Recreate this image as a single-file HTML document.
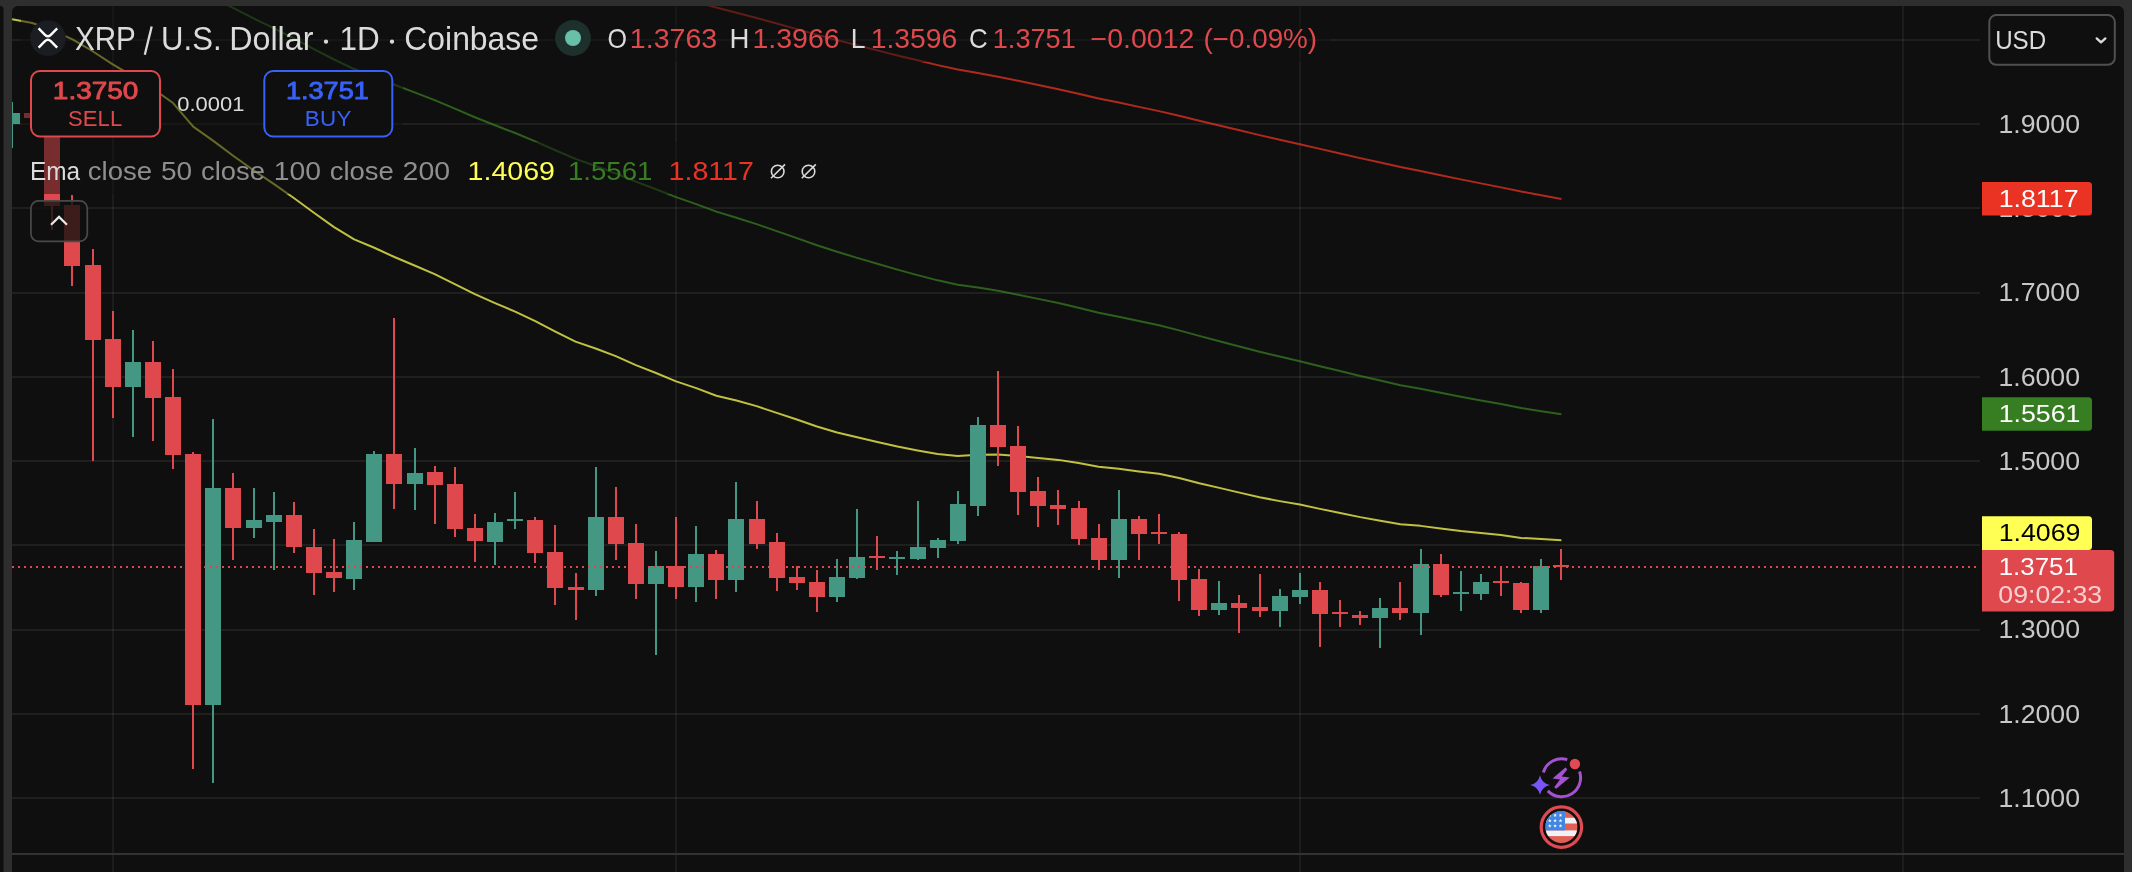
<!DOCTYPE html><html><head><meta charset="utf-8"><style>html,body{margin:0;padding:0;background:#2e2e2e;width:2132px;height:872px;overflow:hidden;}svg{display:block;font-family:"Liberation Sans",sans-serif;will-change:transform;}</style></head><body><svg width="2132" height="872" viewBox="0 0 2132 872" font-family="Liberation Sans, sans-serif">
<defs>
<clipPath id="chart"><rect x="12" y="6" width="1968" height="848"/></clipPath>
</defs>
<rect x="0" y="0" width="2132" height="872" fill="#2e2e2e"/>
<path d="M0 6 H0 L0 6 H0.5 A3 3 0 0 1 3.5 9 V872 H0 Z" fill="#0f0f0f"/>
<path d="M12 12 A6 6 0 0 1 18 6 H2118 A6 6 0 0 1 2124 12 V872 H12 Z" fill="#0f0f0f"/>
<g fill="rgba(242,242,242,0.075)"><rect x="12" y="39" width="1968" height="2"/><rect x="12" y="123" width="1968" height="2"/><rect x="12" y="207" width="1968" height="2"/><rect x="12" y="292" width="1968" height="2"/><rect x="12" y="376" width="1968" height="2"/><rect x="12" y="460" width="1968" height="2"/><rect x="12" y="544" width="1968" height="2"/><rect x="12" y="629" width="1968" height="2"/><rect x="12" y="713" width="1968" height="2"/><rect x="12" y="797" width="1968" height="2"/></g>
<g fill="rgba(242,242,242,0.057)"><rect x="112" y="6" width="2" height="866"/><rect x="675" y="6" width="2" height="866"/><rect x="1299" y="6" width="2" height="866"/><rect x="1902" y="6" width="2" height="866"/></g>
<g clip-path="url(#chart)" fill="none" stroke-width="2" stroke-linejoin="round" stroke-opacity="0.74">
<polyline points="12.13,-198.35 32.25,-195.21 52.37,-191.22 72.49,-186.67 92.61,-181.43 112.74,-175.77 132.86,-170.42 152.98,-164.76 173.10,-158.60 193.22,-150.00 213.34,-143.65 233.46,-136.97 253.58,-130.43 273.70,-124.01 293.82,-117.34 313.94,-110.47 334.06,-103.62 354.18,-97.21 374.30,-91.73 394.42,-86.00 414.54,-80.44 434.66,-74.81 454.78,-68.80 474.90,-62.73 495.02,-56.92 515.15,-51.19 535.27,-45.17 555.39,-38.87 575.51,-32.62 595.63,-27.15 615.75,-21.46 635.87,-15.44 655.99,-9.65 676.11,-3.72 696.23,1.83 716.35,7.59 736.47,12.67 756.59,17.96 776.71,23.53 796.83,29.10 816.95,34.75 837.07,40.15 857.19,45.29 877.31,50.39 897.44,55.43 917.56,60.32 937.68,65.10 957.80,69.46 977.92,73.00 998.04,76.72 1018.16,80.85 1038.28,85.08 1058.40,89.30 1078.52,93.78 1098.64,98.42 1118.76,102.60 1138.88,106.89 1159.00,111.14 1179.12,115.81 1199.24,120.73 1219.36,125.52 1239.48,130.33 1259.60,135.11 1279.72,139.69 1299.85,144.17 1319.97,148.85 1340.09,153.48 1360.21,158.10 1380.33,162.58 1400.45,167.06 1420.57,171.01 1440.69,175.23 1460.81,179.37 1480.93,183.38 1501.05,187.36 1521.17,191.56 1541.29,195.29 1561.41,198.99" stroke="#ea3323"/>
<polyline points="12.13,-87.02 32.25,-82.96 52.37,-77.24 72.49,-70.44 92.61,-62.31 112.74,-53.42 132.86,-45.19 152.98,-36.41 173.10,-26.68 193.22,-12.19 213.34,-2.29 233.46,8.21 253.58,18.35 273.70,28.18 293.82,38.45 313.94,49.04 334.06,59.51 354.18,69.03 374.30,76.65 394.42,84.72 414.54,92.41 434.66,100.18 454.78,108.67 474.90,117.23 495.02,125.25 515.15,133.05 535.27,141.36 555.39,150.21 575.51,158.91 595.63,166.01 615.75,173.49 635.87,181.62 655.99,189.23 676.11,197.11 696.23,204.17 716.35,211.62 736.47,217.70 756.59,224.16 776.71,231.17 796.83,238.14 816.95,245.24 837.07,251.81 857.19,257.86 877.31,263.80 897.44,269.61 917.56,275.10 937.68,280.35 957.80,284.77 977.92,287.55 998.04,290.71 1018.16,294.69 1038.28,298.88 1058.40,303.04 1078.52,307.71 1098.64,312.71 1118.76,316.79 1138.88,321.09 1159.00,325.31 1179.12,330.35 1199.24,335.89 1219.36,341.18 1239.48,346.46 1259.60,351.70 1279.72,356.54 1299.85,361.16 1319.97,366.17 1340.09,371.08 1360.21,375.97 1380.33,380.56 1400.45,385.16 1420.57,388.70 1440.69,392.79 1460.81,396.73 1480.93,400.40 1501.05,404.02 1521.17,408.10 1541.29,411.22 1561.41,414.31" stroke="#377e22"/>
<polyline points="12.13,19.15 32.25,23.02 52.37,30.20 72.49,39.45 92.61,51.23 112.74,64.40 132.86,76.07 152.98,88.70 173.10,103.06 193.22,126.67 213.34,140.84 233.46,156.02 253.58,170.29 273.70,183.81 293.82,198.05 313.94,212.76 334.06,227.08 354.18,239.35 374.30,247.77 394.42,257.03 414.54,265.50 434.66,274.11 454.78,284.11 474.90,294.18 495.02,303.11 515.15,311.58 535.27,321.05 555.39,331.52 575.51,341.65 595.63,348.53 615.75,356.19 635.87,365.13 655.99,373.01 676.11,381.40 696.23,388.17 716.35,395.69 736.47,400.53 756.59,406.15 776.71,412.89 796.83,419.56 816.95,426.52 837.07,432.42 857.19,437.31 877.31,442.04 897.44,446.55 917.56,450.49 937.68,454.00 957.80,455.96 977.92,454.74 998.04,454.44 1018.16,455.91 1038.28,457.88 1058.40,459.88 1078.52,462.99 1098.64,466.79 1118.76,468.84 1138.88,471.39 1159.00,473.85 1179.12,478.01 1199.24,483.19 1219.36,487.89 1239.48,492.60 1259.60,497.24 1279.72,501.11 1299.85,504.60 1319.97,508.89 1340.09,513.01 1360.21,517.13 1380.33,520.69 1400.45,524.31 1420.57,525.87 1440.69,528.58 1460.81,531.07 1480.93,533.06 1501.05,535.02 1521.17,537.96 1541.29,539.06 1561.41,540.16" stroke="#ffff54"/>
</g>
<g clip-path="url(#chart)">
<g fill="#df484c"><rect x="31" y="105" width="2" height="19"/><rect x="24" y="113" width="16" height="5"/><rect x="51" y="114" width="2" height="116"/><rect x="44" y="118" width="16" height="88"/><rect x="71" y="195" width="2" height="91"/><rect x="64" y="205" width="16" height="61"/><rect x="92" y="249" width="2" height="212"/><rect x="85" y="265" width="16" height="75"/><rect x="112" y="311" width="2" height="107"/><rect x="105" y="339" width="16" height="48"/><rect x="152" y="341" width="2" height="100"/><rect x="145" y="362" width="16" height="36"/><rect x="172" y="369" width="2" height="100"/><rect x="165" y="397" width="16" height="58"/><rect x="192" y="452" width="2" height="317"/><rect x="185" y="454" width="16" height="251"/><rect x="232" y="473" width="2" height="87"/><rect x="225" y="488" width="16" height="40"/><rect x="293" y="502" width="2" height="51"/><rect x="286" y="515" width="16" height="32"/><rect x="313" y="529" width="2" height="66"/><rect x="306" y="547" width="16" height="26"/><rect x="333" y="539" width="2" height="53"/><rect x="326" y="572" width="16" height="6"/><rect x="393" y="318" width="2" height="191"/><rect x="386" y="454" width="16" height="30"/><rect x="434" y="466" width="2" height="58"/><rect x="427" y="472" width="16" height="13"/><rect x="454" y="467" width="2" height="70"/><rect x="447" y="484" width="16" height="45"/><rect x="474" y="514" width="2" height="48"/><rect x="467" y="528" width="16" height="13"/><rect x="534" y="517" width="2" height="46"/><rect x="527" y="520" width="16" height="33"/><rect x="554" y="525" width="2" height="80"/><rect x="547" y="552" width="16" height="36"/><rect x="575" y="573" width="2" height="47"/><rect x="568" y="587" width="16" height="3"/><rect x="615" y="487" width="2" height="73"/><rect x="608" y="517" width="16" height="27"/><rect x="635" y="524" width="2" height="75"/><rect x="628" y="543" width="16" height="41"/><rect x="675" y="517" width="2" height="82"/><rect x="668" y="566" width="16" height="21"/><rect x="715" y="550" width="2" height="49"/><rect x="708" y="554" width="16" height="26"/><rect x="756" y="501" width="2" height="48"/><rect x="749" y="519" width="16" height="25"/><rect x="776" y="533" width="2" height="58"/><rect x="769" y="542" width="16" height="36"/><rect x="796" y="566" width="2" height="24"/><rect x="789" y="577" width="16" height="6"/><rect x="816" y="570" width="2" height="42"/><rect x="809" y="582" width="16" height="15"/><rect x="876" y="536" width="2" height="34"/><rect x="869" y="556" width="16" height="2"/><rect x="997" y="371" width="2" height="95"/><rect x="990" y="425" width="16" height="22"/><rect x="1017" y="426" width="2" height="89"/><rect x="1010" y="446" width="16" height="46"/><rect x="1037" y="477" width="2" height="50"/><rect x="1030" y="491" width="16" height="15"/><rect x="1057" y="490" width="2" height="35"/><rect x="1050" y="505" width="16" height="4"/><rect x="1078" y="501" width="2" height="44"/><rect x="1071" y="508" width="16" height="31"/><rect x="1098" y="524" width="2" height="46"/><rect x="1091" y="538" width="16" height="22"/><rect x="1138" y="516" width="2" height="44"/><rect x="1131" y="519" width="16" height="15"/><rect x="1158" y="514" width="2" height="30"/><rect x="1151" y="532" width="16" height="2"/><rect x="1178" y="532" width="2" height="69"/><rect x="1171" y="534" width="16" height="46"/><rect x="1198" y="569" width="2" height="47"/><rect x="1191" y="579" width="16" height="31"/><rect x="1238" y="595" width="2" height="38"/><rect x="1231" y="603" width="16" height="5"/><rect x="1259" y="574" width="2" height="43"/><rect x="1252" y="607" width="16" height="4"/><rect x="1319" y="582" width="2" height="65"/><rect x="1312" y="590" width="16" height="24"/><rect x="1339" y="600" width="2" height="27"/><rect x="1332" y="612" width="16" height="2"/><rect x="1359" y="611" width="2" height="14"/><rect x="1352" y="615" width="16" height="3"/><rect x="1399" y="582" width="2" height="38"/><rect x="1392" y="608" width="16" height="5"/><rect x="1440" y="554" width="2" height="43"/><rect x="1433" y="564" width="16" height="31"/><rect x="1500" y="566" width="2" height="30"/><rect x="1493" y="581" width="16" height="2"/><rect x="1520" y="582" width="2" height="31"/><rect x="1513" y="583" width="16" height="27"/><rect x="1560" y="549" width="2" height="31"/><rect x="1553" y="565" width="16" height="2"/></g>
<g fill="#449782"><rect x="11" y="102" width="2" height="46"/><rect x="4" y="113" width="16" height="11"/><rect x="132" y="330" width="2" height="107"/><rect x="125" y="362" width="16" height="25"/><rect x="212" y="419" width="2" height="364"/><rect x="205" y="488" width="16" height="217"/><rect x="253" y="488" width="2" height="50"/><rect x="246" y="520" width="16" height="8"/><rect x="273" y="492" width="2" height="78"/><rect x="266" y="515" width="16" height="7"/><rect x="353" y="522" width="2" height="68"/><rect x="346" y="540" width="16" height="39"/><rect x="373" y="451" width="2" height="91"/><rect x="366" y="454" width="16" height="88"/><rect x="414" y="448" width="2" height="62"/><rect x="407" y="473" width="16" height="11"/><rect x="494" y="513" width="2" height="52"/><rect x="487" y="522" width="16" height="20"/><rect x="514" y="492" width="2" height="37"/><rect x="507" y="519" width="16" height="2"/><rect x="595" y="467" width="2" height="129"/><rect x="588" y="517" width="16" height="73"/><rect x="655" y="551" width="2" height="104"/><rect x="648" y="566" width="16" height="18"/><rect x="695" y="526" width="2" height="76"/><rect x="688" y="554" width="16" height="33"/><rect x="735" y="482" width="2" height="110"/><rect x="728" y="519" width="16" height="61"/><rect x="836" y="559" width="2" height="43"/><rect x="829" y="577" width="16" height="20"/><rect x="856" y="509" width="2" height="70"/><rect x="849" y="557" width="16" height="21"/><rect x="896" y="551" width="2" height="24"/><rect x="889" y="557" width="16" height="2"/><rect x="917" y="501" width="2" height="59"/><rect x="910" y="547" width="16" height="12"/><rect x="937" y="538" width="2" height="20"/><rect x="930" y="540" width="16" height="8"/><rect x="957" y="491" width="2" height="53"/><rect x="950" y="504" width="16" height="37"/><rect x="977" y="417" width="2" height="99"/><rect x="970" y="425" width="16" height="81"/><rect x="1118" y="490" width="2" height="88"/><rect x="1111" y="519" width="16" height="41"/><rect x="1218" y="581" width="2" height="34"/><rect x="1211" y="603" width="16" height="7"/><rect x="1279" y="589" width="2" height="38"/><rect x="1272" y="596" width="16" height="15"/><rect x="1299" y="573" width="2" height="31"/><rect x="1292" y="590" width="16" height="7"/><rect x="1379" y="598" width="2" height="50"/><rect x="1372" y="608" width="16" height="10"/><rect x="1420" y="549" width="2" height="86"/><rect x="1413" y="564" width="16" height="49"/><rect x="1460" y="571" width="2" height="40"/><rect x="1453" y="592" width="16" height="2"/><rect x="1480" y="574" width="2" height="26"/><rect x="1473" y="582" width="16" height="12"/><rect x="1540" y="559" width="2" height="54"/><rect x="1533" y="566" width="16" height="44"/></g>
<line x1="12" y1="567" x2="1982" y2="567" stroke="#df484c" stroke-width="2" stroke-dasharray="2 4"/>
</g>
<rect x="21" y="6" width="1309" height="56" fill="rgba(15,15,15,0.5)"/>
<rect x="21" y="62" width="382" height="80" fill="rgba(15,15,15,0.5)"/>
<rect x="21" y="142" width="814" height="52" fill="rgba(15,15,15,0.5)"/>
<circle cx="47.95" cy="38.1" r="17.9" fill="#1a1d21"/>
<g fill="none" stroke="#ffffff" stroke-width="2.4" stroke-linecap="butt"><path d="M38.6 28.3 L45.0 34.9 Q47.9 37.8 50.8 34.9 L57.2 28.3"/><path d="M38.6 47.7 L45.0 41.1 Q47.9 38.2 50.8 41.1 L57.2 47.7"/></g>
<text transform="translate(74.93,50.00) scale(0.8864,1)" font-size="33.43" font-weight="normal" fill="#dbdbdb" >XRP</text>
<line x1="144.8" y1="54.8" x2="151.7" y2="26.4" stroke="#dbdbdb" stroke-width="2.3"/>
<text transform="translate(161.10,50.00) scale(0.9312,1)" font-size="33.43" font-weight="normal" fill="#dbdbdb" >U.S.</text>
<text transform="translate(229.26,50.00) scale(0.9641,1)" font-size="33.43" font-weight="normal" fill="#dbdbdb" >Dollar</text>
<circle cx="326.0" cy="41.7" r="2.15" fill="#dbdbdb"/>
<text transform="translate(339.40,50.00) scale(0.9407,1)" font-size="33.43" font-weight="normal" fill="#dbdbdb" >1D</text>
<circle cx="392.0" cy="41.7" r="2.15" fill="#dbdbdb"/>
<text transform="translate(404.28,50.00) scale(0.9546,1)" font-size="33.43" font-weight="normal" fill="#dbdbdb" >Coinbase</text>
<circle cx="573.0" cy="38.0" r="17.9" fill="#1d302c"/>
<circle cx="573.0" cy="38.0" r="8.0" fill="#68bfaa"/>
<text transform="translate(607.41,48.00) scale(0.9266,1)" font-size="27.04" font-weight="normal" fill="#dbdbdb" >O</text>
<text transform="translate(629.82,48.00) scale(1.0574,1)" font-size="27.04" font-weight="normal" fill="#df484c" >1.3763</text>
<text transform="translate(729.44,48.00) scale(1.0197,1)" font-size="27.04" font-weight="normal" fill="#dbdbdb" >H</text>
<text transform="translate(752.43,48.00) scale(1.0561,1)" font-size="27.04" font-weight="normal" fill="#df484c" >1.3966</text>
<text transform="translate(850.72,48.00) scale(0.9815,1)" font-size="27.04" font-weight="normal" fill="#dbdbdb" >L</text>
<text transform="translate(870.64,48.00) scale(1.0473,1)" font-size="27.04" font-weight="normal" fill="#df484c" >1.3596</text>
<text transform="translate(968.88,48.00) scale(0.9579,1)" font-size="27.04" font-weight="normal" fill="#dbdbdb" >C</text>
<text transform="translate(992.73,48.00) scale(1.0049,1)" font-size="27.04" font-weight="normal" fill="#df484c" >1.3751</text>
<text transform="translate(1090.59,48.00) scale(1.0544,1)" font-size="27.04" font-weight="normal" fill="#df484c" >−0.0012</text>
<text transform="translate(1203.47,48.00) scale(1.0290,1)" font-size="27.04" font-weight="normal" fill="#df484c" >(−0.09%)</text>
<rect x="31" y="71" width="129" height="65.5" rx="9" fill="#0f0f0f" stroke="#df484c" stroke-width="2"/>
<rect x="264.3" y="71" width="128" height="65.5" rx="9" fill="#0f0f0f" stroke="#3861f6" stroke-width="2"/>
<text transform="translate(52.87,98.80) scale(1.1505,1)" font-size="24.27" font-weight="normal" fill="#df484c" stroke="#df484c" stroke-width="0.9" stroke-linejoin="round" >1.3750</text>
<text x="67.90" y="125.80" font-size="22.09" font-weight="normal" letter-spacing="0.130" fill="#df484c" >SELL</text>
<text transform="translate(177.24,110.80) scale(1.0725,1)" font-size="20.49" font-weight="normal" fill="#dbdbdb" >0.0001</text>
<text transform="translate(285.94,98.80) scale(1.1164,1)" font-size="24.27" font-weight="normal" fill="#3861f6" stroke="#3861f6" stroke-width="0.9" stroke-linejoin="round" >1.3751</text>
<text x="304.86" y="125.80" font-size="22.38" font-weight="normal" letter-spacing="0.301" fill="#3861f6" >BUY</text>
<text transform="translate(30.00,179.90) scale(0.9210,1)" font-size="26.45" font-weight="normal" fill="#dbdbdb" >Ema</text>
<text transform="translate(87.83,179.90) scale(1.0428,1)" font-size="26.45" font-weight="normal" fill="#8f8f8f" >close</text>
<text transform="translate(160.98,179.90) scale(1.0610,1)" font-size="26.45" font-weight="normal" fill="#8f8f8f" >50</text>
<text transform="translate(201.04,179.90) scale(1.0344,1)" font-size="26.45" font-weight="normal" fill="#8f8f8f" >close</text>
<text transform="translate(273.84,179.90) scale(1.0708,1)" font-size="26.45" font-weight="normal" fill="#8f8f8f" >100</text>
<text transform="translate(329.63,179.90) scale(1.0411,1)" font-size="26.45" font-weight="normal" fill="#8f8f8f" >close</text>
<text transform="translate(402.57,179.90) scale(1.0772,1)" font-size="26.45" font-weight="normal" fill="#8f8f8f" >200</text>
<text transform="translate(467.62,179.90) scale(1.0806,1)" font-size="26.45" font-weight="normal" fill="#ffff54" >1.4069</text>
<text transform="translate(567.89,179.90) scale(1.0450,1)" font-size="26.45" font-weight="normal" fill="#377e22" >1.5561</text>
<text transform="translate(668.62,179.90) scale(1.0804,1)" font-size="26.45" font-weight="normal" fill="#ea3323" >1.8117</text>
<circle cx="777.7" cy="171.5" r="6.3" fill="none" stroke="#dbdbdb" stroke-width="1.6"/>
<line x1="771.0" y1="178.3" x2="785.0" y2="164.4" stroke="#dbdbdb" stroke-width="1.6"/>
<circle cx="808.5" cy="171.5" r="6.3" fill="none" stroke="#dbdbdb" stroke-width="1.6"/>
<line x1="801.8" y1="178.3" x2="815.8" y2="164.4" stroke="#dbdbdb" stroke-width="1.6"/>
<rect x="30.9" y="200.9" width="56.4" height="40.4" rx="7.5" fill="rgba(15,15,15,0.78)" stroke="#4a4a4a" stroke-width="1.7"/>
<path d="M51 224.8 L59 216.9 L67 224.8" fill="none" stroke="#e8e8e8" stroke-width="2.2"/>
<text transform="translate(1998.47,132.85) scale(1.0367,1)" font-size="25.73" font-weight="normal" fill="#c8c8c8" >1.9000</text>
<text transform="translate(1998.47,217.10) scale(1.0367,1)" font-size="25.73" font-weight="normal" fill="#c8c8c8" >1.8000</text>
<text transform="translate(1998.47,301.35) scale(1.0367,1)" font-size="25.73" font-weight="normal" fill="#c8c8c8" >1.7000</text>
<text transform="translate(1998.47,385.60) scale(1.0367,1)" font-size="25.73" font-weight="normal" fill="#c8c8c8" >1.6000</text>
<text transform="translate(1998.47,469.85) scale(1.0367,1)" font-size="25.73" font-weight="normal" fill="#c8c8c8" >1.5000</text>
<text transform="translate(1998.47,638.35) scale(1.0367,1)" font-size="25.73" font-weight="normal" fill="#c8c8c8" >1.3000</text>
<text transform="translate(1998.47,722.60) scale(1.0367,1)" font-size="25.73" font-weight="normal" fill="#c8c8c8" >1.2000</text>
<text transform="translate(1998.47,806.85) scale(1.0367,1)" font-size="25.73" font-weight="normal" fill="#c8c8c8" >1.1000</text>
<path d="M1982 182 H2088.5 A3.5 3.5 0 0 1 2092 185.5 V212.1 A3.5 3.5 0 0 1 2088.5 215.6 H1982 Z" fill="#ea3323"/>
<text transform="translate(1998.66,207.30) scale(1.0835,1)" font-size="24.71" font-weight="normal" fill="#ffffff" >1.8117</text>
<path d="M1982 397.3 H2088.5 A3.5 3.5 0 0 1 2092 400.8 V427.2 A3.5 3.5 0 0 1 2088.5 430.7 H1982 Z" fill="#377e22"/>
<text transform="translate(1998.66,422.40) scale(1.0829,1)" font-size="24.71" font-weight="normal" fill="#ffffff" >1.5561</text>
<path d="M1982 516.2 H2088.5 A3.5 3.5 0 0 1 2092 519.7 V546.4 A3.5 3.5 0 0 1 2088.5 549.9 H1982 Z" fill="#ffff54"/>
<text transform="translate(1998.66,540.90) scale(1.0953,1)" font-size="24.42" font-weight="normal" fill="#000000" >1.4069</text>
<path d="M1982 549.9 H2110.7 A3.5 3.5 0 0 1 2114.2 553.4 V608.1 A3.5 3.5 0 0 1 2110.7 611.6 H1982 Z" fill="#df484c"/>
<text transform="translate(1998.73,574.90) scale(1.0788,1)" font-size="23.98" font-weight="normal" fill="#ffffff" >1.3751</text>
<text transform="translate(1998.36,602.60) scale(1.1326,1)" font-size="23.55" font-weight="normal" fill="rgba(255,255,255,0.75)" >09:02:33</text>
<rect x="1989.3" y="15.1" width="125.5" height="49.7" rx="7" fill="none" stroke="#505050" stroke-width="2"/>
<text transform="translate(1995.14,49.00) scale(0.9393,1)" font-size="25.73" font-weight="normal" fill="#dbdbdb" >USD</text>
<path d="M2096.7 38.4 L2101 42.4 L2105.4 38.4" fill="none" stroke="#dbdbdb" stroke-width="2.3" stroke-linecap="round" stroke-linejoin="round"/>
<rect x="12" y="853" width="2112" height="2" fill="#333333"/>
<path d="M1543.36 772.47 A19.0 19.0 0 0 1 1567.28 759.67" fill="none" stroke="#a552d2" stroke-width="3"/>
<path d="M1579.56 771.61 A19.0 19.0 0 0 1 1547.80 790.85" fill="none" stroke="#a552d2" stroke-width="3"/>
<path d="M1565.4 767.5 L1567.4 769.2 L1561.7 776.6 L1569.7 777.4 L1556.2 788.7 L1554.2 787.3 L1560.0 779.5 L1552.5 778.5 Z" fill="#a552d2"/>
<path d="M1540 775.2 Q1541.8 783.2 1549.9 785 Q1541.8 786.8 1540 794.8 Q1538.2 786.8 1530.2 785 Q1538.2 783.2 1540 775.2 Z" fill="#7855f5"/>
<circle cx="1574.9" cy="764.0" r="5.2" fill="#e04a52"/>
<circle cx="1561.4" cy="827.1" r="20.2" fill="none" stroke="#e04a52" stroke-width="3.2"/>
<clipPath id="flag"><circle cx="1561.4" cy="826.95" r="16"/></clipPath>
<g clip-path="url(#flag)">
<rect x="1544" y="810" width="36" height="34" fill="#e15f55"/>
<rect x="1544" y="817.8" width="36" height="5.7" fill="#f2f2f5"/>
<rect x="1544" y="830.4" width="36" height="5.7" fill="#f2f2f5"/>
<rect x="1544" y="810" width="21" height="20.4" fill="#4187e1"/>
<polygon points="1549.80,813.40 1550.30,814.61 1551.61,814.71 1550.61,815.56 1550.92,816.84 1549.80,816.15 1548.68,816.84 1548.99,815.56 1547.99,814.71 1549.30,814.61" fill="#f5f5f5"/>
<polygon points="1549.80,818.70 1550.30,819.91 1551.61,820.01 1550.61,820.86 1550.92,822.14 1549.80,821.46 1548.68,822.14 1548.99,820.86 1547.99,820.01 1549.30,819.91" fill="#f5f5f5"/>
<polygon points="1549.80,824.10 1550.30,825.31 1551.61,825.41 1550.61,826.26 1550.92,827.54 1549.80,826.86 1548.68,827.54 1548.99,826.26 1547.99,825.41 1549.30,825.31" fill="#f5f5f5"/>
<polygon points="1555.10,813.40 1555.60,814.61 1556.91,814.71 1555.91,815.56 1556.22,816.84 1555.10,816.15 1553.98,816.84 1554.29,815.56 1553.29,814.71 1554.60,814.61" fill="#f5f5f5"/>
<polygon points="1555.10,818.70 1555.60,819.91 1556.91,820.01 1555.91,820.86 1556.22,822.14 1555.10,821.46 1553.98,822.14 1554.29,820.86 1553.29,820.01 1554.60,819.91" fill="#f5f5f5"/>
<polygon points="1555.10,824.10 1555.60,825.31 1556.91,825.41 1555.91,826.26 1556.22,827.54 1555.10,826.86 1553.98,827.54 1554.29,826.26 1553.29,825.41 1554.60,825.31" fill="#f5f5f5"/>
<polygon points="1560.50,813.40 1561.00,814.61 1562.31,814.71 1561.31,815.56 1561.62,816.84 1560.50,816.15 1559.38,816.84 1559.69,815.56 1558.69,814.71 1560.00,814.61" fill="#f5f5f5"/>
<polygon points="1560.50,818.70 1561.00,819.91 1562.31,820.01 1561.31,820.86 1561.62,822.14 1560.50,821.46 1559.38,822.14 1559.69,820.86 1558.69,820.01 1560.00,819.91" fill="#f5f5f5"/>
<polygon points="1560.50,824.10 1561.00,825.31 1562.31,825.41 1561.31,826.26 1561.62,827.54 1560.50,826.86 1559.38,827.54 1559.69,826.26 1558.69,825.41 1560.00,825.31" fill="#f5f5f5"/>
</g>
</svg></body></html>
